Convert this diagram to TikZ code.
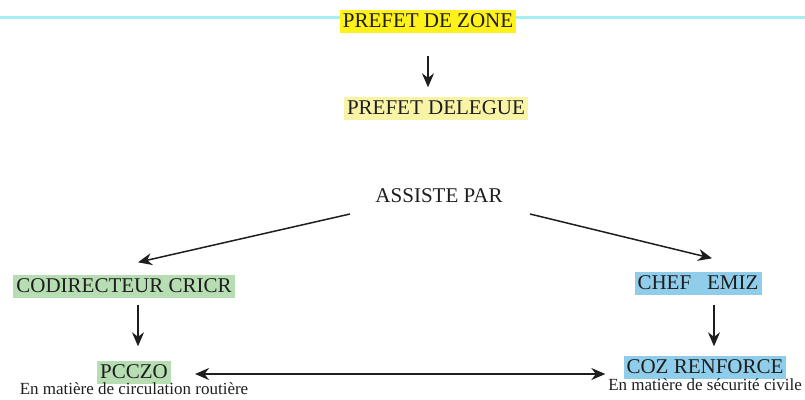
\documentclass[tikz,border=0pt]{standalone}
\usepackage{fontspec}
\setmainfont{Liberation Serif}
\usetikzlibrary{arrows.meta}

\definecolor{zoneyellow}{HTML}{FFF21A}
\definecolor{paleyellow}{HTML}{F9F3A6}
\definecolor{boxgreen}{HTML}{B7DDB2}
\definecolor{boxblue}{HTML}{8FCDEB}
\definecolor{lightcyan}{HTML}{A6EFF3}
\definecolor{encre}{HTML}{1E1E1E}

\tikzset{
  titre/.style={inner xsep=3pt, inner ysep=3pt, text height=15pt, text depth=2pt,
    text=encre, font=\fontsize{21}{24}\selectfont},
  legende/.style={inner sep=0pt, text=encre, font=\fontsize{17}{19}\selectfont},
  fleche/.style={draw=encre, line width=1.5pt, -{Stealth[length=14pt,width=12pt]}},
  doublefleche/.style={draw=encre, line width=1.5pt,
    {Stealth[length=14pt,width=12pt]}-{Stealth[length=14pt,width=12pt]}}
}

\begin{document}
\begin{tikzpicture}[x=1pt,y=-1pt]
        \useasboundingbox (0,0) rectangle (805,399);
        % ligne du haut
        \draw[lightcyan, line width=3pt] (0,17) -- (805,17);

        \node[titre, fill=zoneyellow] (zone) at (428,21) {PREFET DE ZONE};
        \node[titre, fill=paleyellow] (delegue) at (436,108) {PREFET DELEGUE};
        \node[titre] (assiste) at (439,196) {ASSISTE PAR};

        \node[titre, fill=boxgreen] (codir) at (124,286) {CODIRECTEUR CRICR};
        \node[titre, fill=boxblue] (emiz) at (698,283) {CHEF\hspace{16pt}EMIZ};

        \node[titre, fill=boxgreen] (pcczo) at (134,372) {PCCZO};
        \node[legende, below=-1pt] (routiere) at (pcczo.south) {En matière de circulation routière};
        \node[titre, fill=boxblue] (coz) at (705,367) {COZ RENFORCE};
        \node[legende, below=0pt] (civile) at (coz.south) {En matière de sécurité civile};

        \coordinate (depG) at (350,214);
        \coordinate (depD) at (530,214);

        \draw[fleche] ([yshift=-23pt]zone.south) -- ([xshift=-8pt,yshift=9pt]delegue.north);
        \draw[fleche] (depG) -- ([xshift=14pt,yshift=12pt]codir.north);
        \draw[fleche] (depD) -- ([xshift=14pt,yshift=13pt]emiz.north);
        \draw[fleche] ([xshift=14pt,yshift=-7pt]codir.south) -- ([xshift=4pt,yshift=14pt]pcczo.north);
        \draw[fleche] ([xshift=16pt,yshift=-10pt]emiz.south) -- ([xshift=9pt,yshift=9pt]coz.north);
        \draw[doublefleche] ([xshift=24pt,yshift=-2pt]pcczo.east) -- ([xshift=-18pt,yshift=-2pt]coz.west |- pcczo.east);
    \end{tikzpicture}
\end{document}
